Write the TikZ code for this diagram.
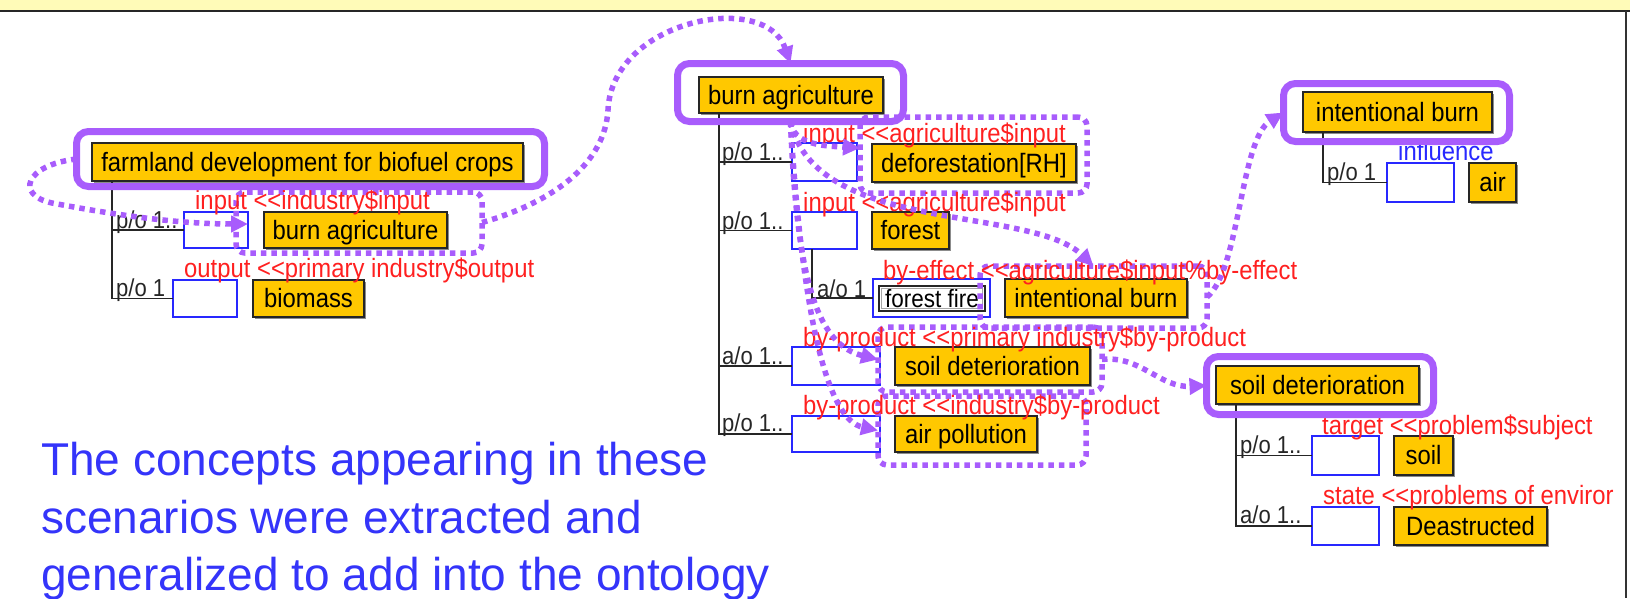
\documentclass[tikz,border=0pt]{standalone}
\usepackage{fontspec}
\setmainfont{Liberation Sans}[Ligatures=TeXOff]
\newfontfamily\uifont{Liberation Sans}[Ligatures=TeXOff, FakeStretch=0.9]
\usetikzlibrary{arrows.meta,shadows}

\definecolor{bandY}{RGB}{255,251,184}
\definecolor{conceptOr}{RGB}{255,200,0}
\definecolor{hlPurple}{RGB}{168,92,252}
\definecolor{roleRed}{RGB}{255,32,32}
\definecolor{slotBlue}{RGB}{40,40,255}
\definecolor{noteBlue}{RGB}{52,52,250}

\newcommand\cfont{\uifont\fontsize{26.5}{30}\selectfont}
\newcommand\rfont{\uifont\fontsize{24.5}{28}\selectfont}
\newcommand\nfont{\fontsize{46}{57}\selectfont}

% boxes given by their corners on a pixel grid (y grows downwards)
\newcommand\conceptbox[6]{\node[concept, minimum width={(#4-#2)*1pt}, minimum height={(#5-#3)*1pt}] (#1) at (#2,#3) {#6};}
\newcommand\slotbox[5]{\node[slot, minimum width={(#4-#2)*1pt}, minimum height={(#5-#3)*1pt}] (#1) at (#2,#3) {};}
\newcommand\ringbox[6]{\node[#6, minimum width={(#4-#2)*1pt}, minimum height={(#5-#3)*1pt}] (#1) at (#2,#3) {};}

\begin{document}
\begin{tikzpicture}[x=1pt, y=-1pt,
  concept/.style={draw=black!85, line width=1.3pt, fill=conceptOr, anchor=north west,
    inner sep=0pt, outer sep=0pt, font=\cfont, text=black, text height=19pt, text depth=1pt,
    drop shadow={shadow xshift=1.6pt, shadow yshift=-1.6pt, fill=black!45, opacity=1}},
  slot/.style={draw=slotBlue, line width=1.6pt, fill=white, anchor=north west,
    inner sep=0pt, outer sep=0pt},
  firebox/.style={draw=black!85, line width=1.3pt, fill=white, anchor=north west,
    inner sep=0pt, outer sep=0pt, minimum width=106pt, minimum height=25pt,
    font=\uifont\fontsize{25}{28}\selectfont, text height=18pt, text depth=1pt},
  ring/.style={draw=hlPurple, line width=7pt, rounded corners=12pt, anchor=north west,
    inner sep=0pt, outer sep=0pt},
  dotring/.style={draw=hlPurple, line width=5.5pt, dash pattern=on 5.5pt off 5pt,
    rounded corners=9pt, anchor=north west, inner sep=0pt, outer sep=0pt},
  link/.style={draw=hlPurple, line width=5.5pt, dash pattern=on 5.5pt off 5pt,
    -{Triangle[length=17pt,width=16pt]}},
  tree/.style={draw=black!85, line width=1.3pt},
  rel/.style={anchor=base west, inner sep=0pt, font=\rfont, text=black!85},
  role/.style={anchor=west, inner sep=0pt, font=\cfont, text=roleRed,
    text height=19pt, text depth=1pt},
  note/.style={anchor=base west, inner sep=0pt, font=\nfont, text=noteBlue}
]
\useasboundingbox (0,0) rectangle (1630,598);

% window frame
\fill[bandY] (0,0) rectangle (1630,10);
\draw[black!85, line width=2pt] (0,11) -- (1630,11);
\draw[black!80, line width=1.5pt] (1626,11) -- (1626,598);

% ---- farmland development scenario
\conceptbox{farm}{92}{143}{523}{181}{farmland development for biofuel crops}
\slotbox{lb1}{184}{212}{248}{248}
\conceptbox{lc1}{264}{212}{447}{248}{burn agriculture}
\slotbox{lb2}{173}{280}{237}{317}
\conceptbox{lc2}{253}{280}{364}{317}{biomass}
\coordinate (farmT) at (112,181);
\draw[tree] (farmT) |- (lb1.west);
\draw[tree] (farmT) |- (lb2.west);
\node[rel] (lr1) at (116,228) {p/o 1..};
\node[rel] (lr2) at (116,296) {p/o 1};

% ---- burn agriculture
\conceptbox{ba}{699}{77}{883}{113}{burn agriculture}
\slotbox{mb1}{792}{143}{857}{181}
\conceptbox{mc1}{872}{144}{1076}{182}{deforestation[RH]}
\slotbox{mb2}{792}{212}{857}{249}
\conceptbox{mc2}{872}{212}{949}{249}{forest}
\slotbox{ff}{873}{279}{990}{317}
\node[firebox] (ffi) at (879,286) {forest fire};
\draw[gray!70, line width=1pt] ([shift={(2.4pt,-2.4pt)}]ffi.north west) rectangle ([shift={(-2.4pt,2.4pt)}]ffi.south east);
\conceptbox{mc3}{1005}{279}{1187}{317}{intentional burn}
\slotbox{mb4}{792}{347}{880}{385}
\conceptbox{mc4}{895}{347}{1090}{385}{soil deterioration}
\slotbox{mb5}{792}{416}{880}{452}
\conceptbox{mc5}{895}{416}{1037}{452}{air pollution}
\coordinate (baT) at (719,113);
\draw[tree] (baT) |- (mb1.west);
\draw[tree] (baT) |- (mb2.west);
\draw[tree] (baT) |- (mb4.west);
\draw[tree] (baT) |- (mb5.west);
\coordinate (foT) at (812,249);
\draw[tree] (foT) |- (ff.west);
\node[rel] (mr1) at (722,160) {p/o 1..};
\node[rel] (mr2) at (722,229) {p/o 1..};
\node[rel] (mr3) at (817,297) {a/o 1};
\node[rel] (mr4) at (722,364) {a/o 1..};
\node[rel] (mr5) at (722,431) {p/o 1..};

% ---- intentional burn
\conceptbox{ib}{1303}{92}{1492}{132}{intentional burn}
\slotbox{rb1}{1387}{163}{1454}{202}
\conceptbox{rc1}{1469}{163}{1516}{202}{air}
\coordinate (ibT) at (1323,132);
\draw[tree] (ibT) |- (rb1.west);
\node[rel] (rr1) at (1327,180) {p/o 1};
\node[role, text=slotBlue] (rl1) at (1398,151) {influence};

% ---- soil deterioration
\conceptbox{sd}{1216}{366}{1419}{404}{soil deterioration}
\slotbox{sb1}{1312}{436}{1379}{475}
\conceptbox{sc1}{1394}{436}{1453}{475}{soil}
\slotbox{sb2}{1312}{507}{1379}{545}
\conceptbox{sc2}{1394}{507}{1547}{545}{Deastructed}
\coordinate (sdT) at (1236,404);
\draw[tree] (sdT) |- (sb1.west);
\draw[tree] (sdT) |- (sb2.west);
\node[rel] (sr1) at (1240,453) {p/o 1..};
\node[rel] (sr2) at (1240,523) {a/o 1..};

% ---- dotted frames round the scenario instances
\ringbox{d1}{236}{192}{482}{253}{dotring}
\ringbox{d2}{860}{117}{1087}{193}{dotring}
\ringbox{d3}{980}{266}{1207}{328}{dotring}
\ringbox{d4}{878}{327}{1102}{392}{dotring}
\ringbox{d5}{878}{396}{1086}{465}{dotring}

% ---- role labels
\node[role] (ll1) at (195,200) {input <<industry\$input};
\node[role] (ll2) at (184,268) {output <<primary industry\$output};
\node[role] (ml1) at (803,133) {input <<agriculture\$input};
\node[role] (ml2) at (803,202) {input <<agriculture\$input};
\node[role] (ml3) at (883,270) {by-effect <<agriculture\$input\%by-effect};
\node[role] (ml4) at (803,337) {by-product <<primary industry\$by-product};
\node[role] (ml5) at (803,405) {by-product <<industry\$by-product};
\node[role] (sl1) at (1322,425) {target <<problem\$subject};
\node[role] (sl2) at (1323,495) {state <<problems of enviror};

% ---- highlighted concepts
\ringbox{p1}{76.5}{131.5}{544.5}{186.5}{ring}
\ringbox{p2}{677.5}{63.5}{903.5}{121.5}{ring}
\ringbox{p3}{1283.5}{83.5}{1509.5}{141.5}{ring}
\ringbox{p4}{1206.5}{356.5}{1433.5}{414.5}{ring}

% ---- dotted links
\draw[link] (p1.west) .. controls (25,165) and (15,195) .. (52,203)
  .. controls (100,212) and (170,224) .. ([yshift=6pt]lb1.east);
\draw[link] (d1.east) .. controls (560,200) and (605,160) .. (608,110)
  .. controls (612,20) and (765,-10) .. (p2.north);
\draw[link] (p2.south) .. controls (793,145) and (825,146) .. ([yshift=7pt]d2.west);
\draw[link] (p2.south) .. controls (815,235) and (1030,205) .. (d3.north);
\draw[link] (p2.south) .. controls (797,290) and (820,345) .. (d4.west);
\draw[link] (p2.south) .. controls (803,330) and (830,420) .. (d5.west);
\draw[link] (d3.east) .. controls (1240,270) and (1240,140) .. (p3.west);
\draw[link] (d4.east) .. controls (1140,355) and (1160,388) .. (p4.west);

% ---- note
\node[note] (n1) at (41,475) {The concepts appearing in these};
\node[note] (n2) at (41,533) {scenarios were extracted and};
\node[note] (n3) at (41,590) {generalized to add into the ontology};
\end{tikzpicture}
\end{document}
